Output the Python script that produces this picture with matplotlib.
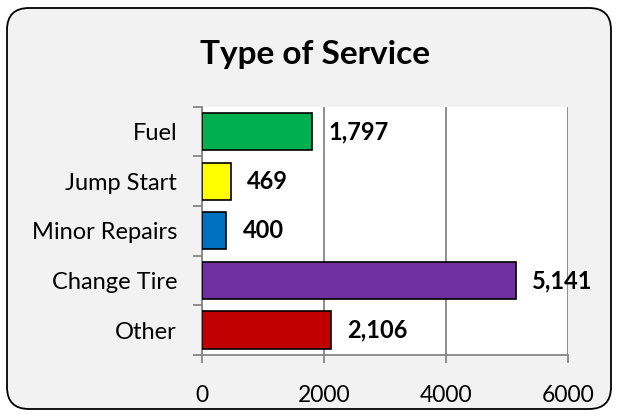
import matplotlib.pyplot as plt
import numpy as np
from matplotlib.patches import FancyBboxPatch

categories = ["Fuel", "Jump Start", "Minor Repairs", "Change Tire", "Other"]
counts = [1797, 469, 400, 5141, 2106]
colors = ["#00B050", "#FFFF00", "#0070C0", "#7030A0", "#C00000"]
xticks = [0, 2000, 4000, 6000]

plt.rcParams['font.family'] = ['Lato', 'DejaVu Sans']

fig = plt.figure(figsize=(6.18, 4.16), dpi=100)
fig.patch.set_facecolor("white")

# rounded chart border (inches, so corners stay round)
box = FancyBboxPatch((0.07, 0.07), 6.04, 4.01,
                     boxstyle="round,pad=0,rounding_size=0.22",
                     transform=fig.dpi_scale_trans, facecolor="#F2F2F2",
                     edgecolor="black", linewidth=1.3, zorder=-5)
fig.patches.append(box)

ax = fig.add_axes([0.327, 0.147, 0.592, 0.596])
ax.set_facecolor("white")

y = np.arange(len(categories))
ax.barh(y, counts, height=0.75, color=colors, edgecolor="black", linewidth=1.2, zorder=3)

for yi, v in zip(y, counts):
    ax.annotate(f"{v:,}", (v, yi), xytext=(12, 0), textcoords="offset points",
                va="center", ha="left", fontsize=17, fontweight="bold", zorder=4)

ax.set_xlim(0, 6000)
ax.set_ylim(len(categories) - 0.5, -0.5)
ax.set_xticks(xticks)
ax.set_xticklabels([str(t) for t in xticks], fontsize=16.5)
ax.set_yticks(y)
ax.set_yticklabels(categories, fontsize=17)
ax.set_yticks(np.arange(len(categories) + 1) - 0.5, minor=True)

ax.tick_params(axis="y", which="major", length=0, pad=18)
ax.tick_params(axis="y", which="minor", length=6.5, color="#868686", width=1.3)
ax.tick_params(axis="x", length=6, color="#868686", width=1.3, pad=16)

ax.grid(axis="x", color="#868686", linewidth=1.3, zorder=0)
for s in ["top", "right"]:
    ax.spines[s].set_visible(False)
for s in ["left", "bottom"]:
    ax.spines[s].set_color("#868686")
    ax.spines[s].set_linewidth(1.3)

fig.text(0.51, 0.868, "Type of Service", ha="center", va="center",
         fontsize=24, fontweight="bold")

fig.savefig("out.png", dpi=100)
